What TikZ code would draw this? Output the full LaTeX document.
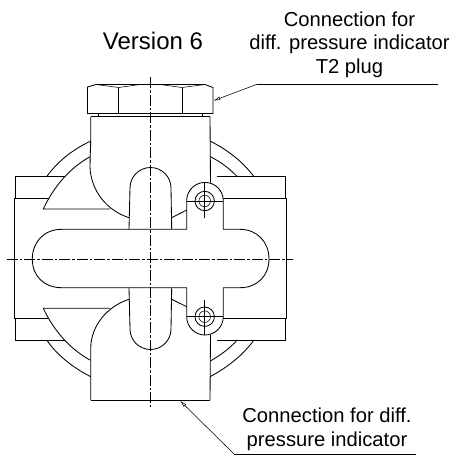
\documentclass[tikz,border=0pt]{standalone}
\usepackage{fontspec}
\setmainfont{Liberation Sans}
\usetikzlibrary{arrows.meta}
\tikzset{
  x=1pt,y=-1pt,
  obj/.style={draw=black,line width=0.85pt,line join=miter},
  thin line/.style={draw=black,line width=0.55pt},
  axis/.style={draw=black,line width=0.6pt,dash pattern=on 11pt off 2pt on 2.5pt off 2pt},
  leader/.style={draw=black,line width=0.55pt},
  tip/.style={-{Latex[open,length=7pt,width=3.5pt]}},
  lbl/.style={inner sep=0pt,font=\fontsize{20.2pt}{23.5pt}\selectfont,align=center,anchor=center}
}
\begin{document}
\begin{tikzpicture}
\useasboundingbox (0,0) rectangle (454,456);
\fill[white] (0,0) rectangle (454,456);
% nut
\path[obj] (87.5,113.5) -- (87.5,87) -- (96,84.5) -- (205,84.5) -- (213,87.5) -- (213,113.5) -- cycle;
\path[obj] (118.7,113.5) -- (118.7,87.5) (182,113.5) -- (182,87.5);
\path[thin line] (96,84.5) -- (118.7,87.5) -- (140,84.5) (160,84.5) -- (182,87.5) -- (205,84.5);
% washer and body
\path[obj] (98.7,113.5) -- (98.7,117) (202,113.5) -- (202,117);
\path[obj] (90.7,116.8) -- (210,116.8);
\path[obj] (90.7,116.8) -- (90.7,141) -- (90.2,156.7) -- (90,167) .. controls (91,192) and (108,211) .. (129,217.7);
\path[obj] (210,116.8) -- (210.5,182.7);
\path[obj] (90.7,400) -- (210,400);
\path[obj] (90.7,400) -- (90.7,348) .. controls (91,325) and (108,306) .. (129,299.3);
\path[obj] (210,400) -- (210.5,335);
% housing arcs
\path[obj] (90.7,141) .. controls (72,150) and (57,162) .. (46.7,176.7);
\path[obj] (90,156.7) .. controls (70,168) and (54,186) .. (43.3,209) -- (110,209);
\path[obj] (210,141) .. controls (228,150) and (243,162) .. (254,176.7);
\path[obj] (210.3,156.7) .. controls (221,162) and (230,169) .. (237.3,176.7);
\path[obj] (90.7,376.7) .. controls (72,367) and (57,355) .. (46.7,340);
\path[obj] (90,360) .. controls (70,349) and (54,331) .. (43.3,308.3) -- (110,308.3);
\path[obj] (210,376.7) .. controls (228,367) and (243,355) .. (254,340);
\path[obj] (210.3,361) .. controls (221,355) and (230,348) .. (237.3,340);
\path[obj] (171.7,217.7) -- (186.7,210);
\path[obj] (171.7,299.3) -- (186.7,306.7);
% side blocks
\path[obj] (65,176.7) -- (15.3,176.7) -- (15.3,198.3) (49,198.3) -- (14,198.3) -- (14,318.3) -- (49,318.3) (15.3,318.3) -- (15.3,340) -- (65,340);
\path[obj] (216.7,176.7) -- (285.7,176.7) -- (285.7,198.3) (223.3,198.3) -- (286.7,198.3) -- (286.7,318.3) -- (223.3,318.3) (285.7,318.3) -- (285.7,340) -- (216.7,340);
% slots
\path[obj] (129,229.3) -- (130,188) arc[start angle=180,end angle=360,radius=20.5] -- (171.7,229.3);
\path[obj] (129,287.7) -- (130,329) arc[start angle=180,end angle=0,radius=20.5] -- (171.7,287.7);
% cross bar with lugs
\path[obj] (61.7,229.3) -- (186.7,229.3) -- (186.7,200.7)
  arc[start angle=180,end angle=360,radius=18.3] -- (223.3,229.3) -- (240,229.3)
  .. controls (257,229.3) and (269,242) .. (269,259)
  .. controls (269,276) and (257,287.7) .. (240,287.7) -- (223.3,287.7) -- (223.3,316.7)
  arc[start angle=0,end angle=180,radius=18.3] -- (186.7,287.7) -- (61.7,287.7)
  .. controls (44,287.7) and (32.3,276) .. (32.3,259)
  .. controls (32.3,242) and (44,229.3) .. (61.7,229.3) -- cycle;
% ports
\foreach \cy in {201,316.7}{
  \path[obj] (204.7,\cy) circle[radius=9.7];
  \path[thin line] (204.7,\cy) circle[radius=5.8];
  \path[thin line] (186.7,\cy) -- (223.3,\cy);
}
\path[thin line] (204.7,182.5) -- (204.7,217.5);
\path[thin line] (204.7,300) -- (204.7,335);
% centre lines
\path[axis] (150.3,77) -- (150.3,407);
\path[axis] (6.7,259) -- (293,259);
% leaders
\coordinate (t1) at (438,84.3);
\coordinate (t2) at (257,84.3);
\coordinate (t3) at (213.3,100.7);
\coordinate (b1) at (416,454);
\coordinate (b2) at (234,454);
\coordinate (b3) at (180,400.7);
\path[leader] (t1) -- (t2);
\path[leader,tip] (t2) -- (t3);
\path[leader] (b1) -- (b2);
\path[leader,tip] (b2) -- (b3);
% labels
\node[lbl,font=\fontsize{24pt}{26pt}\selectfont] (ver) at (153,40.5) {Version 6};
\node[lbl] (top) at (349.5,44.5) {Connection for\\diff. pressure indicator\\T2 plug};
\node[lbl] (bot) at (327,429.5) {Connection for diff.\\pressure indicator};
\end{tikzpicture}
\end{document}
